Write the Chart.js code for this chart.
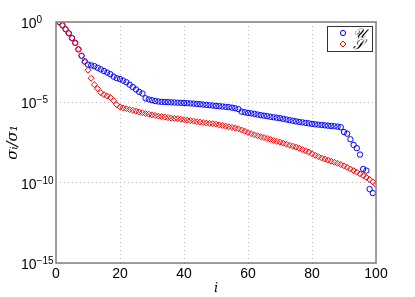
<!DOCTYPE html>
<html>
<head>
<meta charset="utf-8">
<script src="https://cdn.jsdelivr.net/npm/chart.js@4"></script>
<style>
  html, body { margin: 0; padding: 0; background: #fff; }
  #wrap { width: 415px; height: 297px; }
</style>
</head>
<body>
<div id="wrap"><canvas id="sv-chart" width="415" height="297"></canvas></div>
<script>
const idx = Array.from({ length: 100 }, (_, k) => k + 1);

const uExp = [
    0, 0.2, 0.45, 0.7, 1.0, 1.3, 1.7, 2.1, 2.45, 2.65,
    2.7, 2.75, 2.85, 2.95, 3.05, 3.15, 3.25, 3.4, 3.5, 3.55,
    3.65, 3.75, 3.9, 4.05, 4.2, 4.35, 4.45, 4.75, 4.82, 4.87,
    4.92, 4.95, 4.97, 4.98, 4.99, 5.0, 5.01, 5.02, 5.03, 5.04,
    5.05, 5.07, 5.08, 5.1, 5.12, 5.14, 5.16, 5.18, 5.2, 5.22,
    5.24, 5.26, 5.28, 5.3, 5.33, 5.37, 5.42, 5.58, 5.62, 5.66,
    5.69, 5.72, 5.76, 5.8, 5.83, 5.86, 5.9, 5.93, 5.96, 5.99,
    6.03, 6.07, 6.11, 6.15, 6.19, 6.22, 6.25, 6.28, 6.31, 6.34,
    6.37, 6.39, 6.41, 6.43, 6.45, 6.47, 6.49, 6.51, 6.55, 6.85,
    6.95, 7.3, 7.65, 7.85, 8.25, 9.15, 9.25, 10.4, 10.65
];

const sExp = [
    0, 0.2, 0.45, 0.7, 1.0, 1.3, 1.7, 2.1, 2.5, 3.0,
    3.5, 3.9, 4.15, 4.4, 4.52, 4.6, 4.7, 4.9, 5.15, 5.28,
    5.35, 5.4, 5.45, 5.5, 5.55, 5.6, 5.65, 5.7, 5.74, 5.78,
    5.82, 5.86, 5.89, 5.92, 5.95, 5.98, 6.0, 6.02, 6.05, 6.08,
    6.11, 6.14, 6.17, 6.2, 6.23, 6.26, 6.29, 6.31, 6.33, 6.36,
    6.4, 6.44, 6.48, 6.52, 6.56, 6.6, 6.65, 6.72, 6.8, 6.88,
    6.95, 7.02, 7.08, 7.14, 7.19, 7.25, 7.31, 7.37, 7.43, 7.48,
    7.54, 7.6, 7.67, 7.73, 7.79, 7.86, 7.94, 8.02, 8.1, 8.2,
    8.3, 8.38, 8.46, 8.53, 8.6, 8.67, 8.73, 8.8, 8.87, 8.95,
    9.05, 9.15, 9.25, 9.35, 9.45, 9.56, 9.68, 9.8, 9.95, 10.12
];

const seriesNames = ['𝒰', '𝒮'];
const xTicks = [0, 20, 40, 60, 80, 100];
const yTicks = [1, 1e-5, 1e-10, 1e-15];
const yTickExps = ['0', '−5', '−10', '−15'];

const toPoints = (exps) => exps.map((e, k) => ({ x: idx[k], y: Math.pow(10, -e) }));

const GREY = '#7f7f7f';
const SANS = 'Liberation Sans, Arial, sans-serif';
const tickFont = { family: SANS, size: 14 };

// "10" + raised exponent, left aligned like the original
const yLabelPlugin = {
    id: 'yLabels',
    afterDraw(chart) {
        const { ctx } = chart;
        const y = chart.scales.y;
        ctx.save();
        ctx.fillStyle = '#000';
        yTicks.forEach((v, i) => {
            const py = y.getPixelForValue(v);
            ctx.font = `14px ${SANS}`;
            ctx.textBaseline = 'middle';
            ctx.textAlign = 'left';
            ctx.fillText('10', 21, py + 2);
            const w = ctx.measureText('10').width;
            ctx.font = `10px ${SANS}`;
            ctx.textBaseline = 'alphabetic';
            ctx.fillText(yTickExps[i], 21 + w, py + 1);
        });
        ctx.restore();
    }
};

// box around the plot + legend in the top right corner
const framePlugin = {
    id: 'frame',
    afterDraw(chart) {
        const { ctx, chartArea: a } = chart;
        ctx.save();
        ctx.strokeStyle = GREY;
        ctx.lineWidth = 1.5;
        ctx.strokeRect(a.left, a.top, a.right - a.left, a.bottom - a.top);

        // legend
        const bx = 327, by = 26, bw = 45, bh = 25;
        ctx.fillStyle = '#fff';
        ctx.fillRect(bx, by, bw, bh);
        ctx.strokeStyle = '#333';
        ctx.lineWidth = 1;
        ctx.strokeRect(bx + 0.5, by + 0.5, bw, bh);

        chart.data.datasets.forEach((ds, i) => {
            const y = by + 7 + i * 11;
            ctx.strokeStyle = ds.borderColor;
            ctx.lineWidth = 1;
            ctx.beginPath();
            if (ds.pointStyle === 'rectRot') {
                ctx.moveTo(343, y - 3); ctx.lineTo(346, y); ctx.lineTo(343, y + 3); ctx.lineTo(340, y); ctx.closePath();
            } else {
                ctx.arc(343, y, 2.6, 0, Math.PI * 2);
            }
            ctx.stroke();
            ctx.fillStyle = '#000';
            ctx.font = 'italic 14px DejaVu Serif, serif';
            ctx.textBaseline = 'middle';
            ctx.fillText(ds.label, 353, y + 1);
        });
        ctx.restore();
    }
};

const ctx = document.getElementById('sv-chart').getContext('2d');
new Chart(ctx, {
    type: 'scatter',
    data: {
        datasets: [{
            label: seriesNames[0],
            data: toPoints(uExp),
            borderColor: '#0000ff',
            backgroundColor: 'rgba(0,0,0,0)',
            pointStyle: 'circle',
            pointRadius: 2.7,
            pointBorderWidth: 1,
            order: 2
        }, {
            label: seriesNames[1],
            data: toPoints(sExp),
            borderColor: '#ff0000',
            backgroundColor: 'rgba(0,0,0,0)',
            pointStyle: 'rectRot',
            pointRadius: 3,
            pointBorderWidth: 1,
            order: 1
        }]
    },
    options: {
        responsive: false,
        animation: false,
        layout: { padding: { top: 22, right: 39, left: 0, bottom: 0 } },
        scales: {
            x: {
                type: 'linear',
                min: 0,
                max: 100,
                afterBuildTicks: (s) => { s.ticks = xTicks.map(v => ({ value: v })); },
                afterFit: (s) => { s.height = 34; },
                grid: { color: '#b4b4b4', lineWidth: 1, drawTicks: false },
                border: { display: false, dash: [1, 3] },
                ticks: { color: '#000', font: tickFont, padding: 3, maxRotation: 0 },
                title: {
                    display: true, text: 'i', color: '#000',
                    font: { family: 'DejaVu Serif, serif', style: 'italic', size: 13 },
                    padding: { top: 0, bottom: 1 }
                }
            },
            y: {
                type: 'logarithmic',
                min: 1e-15,
                max: 1,
                afterBuildTicks: (s) => { s.ticks = yTicks.map(v => ({ value: v })); },
                afterFit: (s) => { s.width = 56; },
                grid: { color: '#b4b4b4', lineWidth: 1, drawTicks: false },
                border: { display: false, dash: [1, 3] },
                ticks: { display: false },
                title: {
                    display: true, text: 'σᵢ/σ₁', color: '#000',
                    font: { family: 'DejaVu Serif, serif', style: 'italic', size: 15 },
                    padding: { top: 4, bottom: 0 }
                }
            }
        },
        plugins: {
            legend: { display: false },
            tooltip: { enabled: false }
        }
    },
    plugins: [yLabelPlugin, framePlugin]
});
</script>
</body>
</html>
